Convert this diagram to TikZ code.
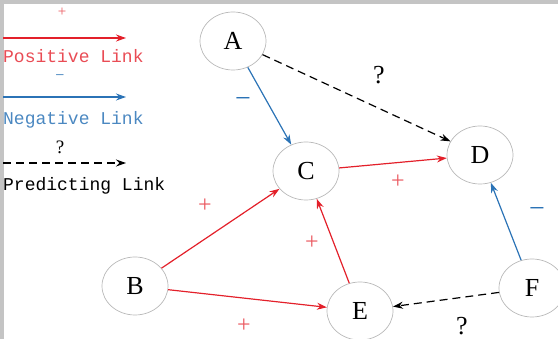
\documentclass[tikz,border=0pt]{standalone}
\usepackage{fontspec}
\setmainfont{Liberation Serif}
\newfontfamily\legendfont{Liberation Mono}
\usetikzlibrary{arrows.meta,shapes.geometric}
\definecolor{cPos}{HTML}{E3202A}
\definecolor{cNeg}{HTML}{2B73B6}
\definecolor{cRing}{HTML}{B9B9B9}
\definecolor{cFrame}{HTML}{C4C4C4}
\tikzset{
  vert/.style={ellipse,draw=cRing,line width=0.7pt,fill=white,
              minimum width=66pt,minimum height=58pt,inner sep=0pt,
              font=\fontsize{26}{26}\selectfont},
  poslink/.style={-{Stealth[length=10pt,width=7pt]},line width=1.2pt,cPos},
  neglink/.style={-{Stealth[length=10pt,width=7pt]},line width=1.2pt,cNeg},
  predlink/.style={-{Stealth[length=10pt,width=7pt]},line width=1.2pt,
              black,dash pattern=on 8pt off 5pt},
  plussign/.style={text=cPos!75,inner sep=0pt,font=\fontsize{24}{24}\selectfont},
  minussign/.style={text=cNeg,inner sep=0pt,font=\fontsize{28}{28}\selectfont},
  query/.style={inner sep=0pt,font=\fontsize{26}{26}\selectfont},
  legendtext/.style={anchor=base west,inner sep=0pt,
              font=\legendfont\fontsize{18}{18}\selectfont},
}

\begin{document}
\begin{tikzpicture}[x=1pt,y=-1pt]
  \useasboundingbox (0,0) rectangle (558,339);
  \fill[cFrame] (0,0) rectangle (558,4);
  \fill[cFrame] (0,0) rectangle (4,339);

  % legend
  \node[plussign,font=\fontsize{15}{15}\selectfont] (lp) at (62,12){+};
  \coordinate (p0) at (3,38); \coordinate (p1) at (126,38);
  \draw[poslink] (p0)--(p1);
  \node[legendtext,text=cPos!80] (lpt) at (3,63){Positive Link};
  \node[minussign,font=\fontsize{16}{16}\selectfont] (lm) at (60,78){−};
  \coordinate (n0) at (3,97); \coordinate (n1) at (126,97);
  \draw[neglink] (n0)--(n1);
  \node[legendtext,text=cNeg!85] (lmt) at (3,125){Negative Link};
  \node[query,font=\fontsize{19}{19}\selectfont] (lq) at (60,147){?};
  \coordinate (q0) at (3,163); \coordinate (q1) at (126,163);
  \draw[predlink] (q0)--(q1);
  \node[legendtext] (lqt) at (3,191){Predicting Link};

  % signed network
  \node[vert] (A) at (233,41){A};
  \node[vert] (B) at (135,286){B};
  \node[vert] (C) at (306,171){C};
  \node[vert] (D) at (480,155){D};
  \node[vert] (E) at (360,311){E};
  \node[vert] (F) at (532,288){F};

  \draw[neglink] (A)--(C);
  \draw[predlink] (A)--(D);
  \draw[poslink] (C)--(D);
  \draw[poslink] (B)--(C);
  \draw[poslink] (B)--(E);
  \draw[poslink] (E)--(C);
  \draw[neglink] (F)--(D);
  \draw[predlink] (F)--(E);

  \node[minussign] (sAC) at (243,103){−};
  \node[query] (sAD) at (379,75){?};
  \node[plussign] (sCD) at (398,182){+};
  \node[plussign] (sBC) at (205,206){+};
  \node[plussign] (sEC) at (312,243){+};
  \node[plussign] (sBE) at (244,326){+};
  \node[minussign] (sFD) at (537,213){−};
  \node[query] (sFE) at (462,326){?};
\end{tikzpicture}
\end{document}
